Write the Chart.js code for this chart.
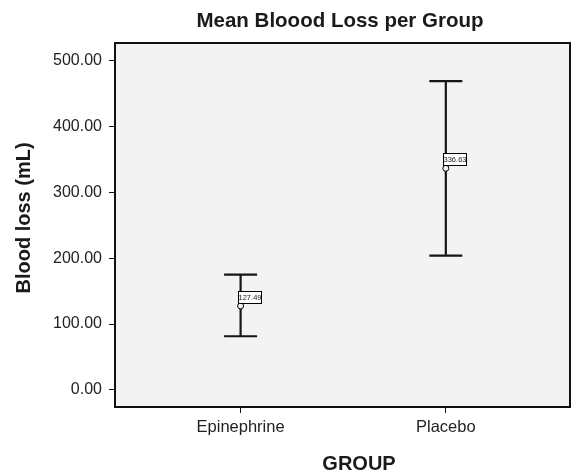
<!DOCTYPE html>
<html>
<head>
<meta charset="utf-8">
<script src="https://cdn.jsdelivr.net/npm/chart.js@4/dist/chart.umd.min.js"></script>
<style>
html,body{margin:0;padding:0;background:#fff;}
#wrap{width:571px;height:473px;position:relative;}
</style>
</head>
<body>
<div id="wrap"><canvas id="c" width="571" height="473"></canvas></div>
<script>
const categories = ['Epinephrine', 'Placebo'];
const means = [127.49, 336.63];
const upper = [175.0, 469.0];
const lower = [81.5, 204.0];
const yTicks = [0, 100, 200, 300, 400, 500];
const titleText = 'Mean Bloood Loss per Group';
const xTitle = 'GROUP';
const yTitle = 'Blood loss (mL)';

const FONT = '"Liberation Sans", Arial, Helvetica, sans-serif';

const decor = {
  id: 'decor',
  beforeDraw(chart) {
    const {ctx, chartArea: a} = chart;
    ctx.save();
    ctx.fillStyle = '#f3f3f3';
    ctx.fillRect(a.left, a.top, a.right - a.left, a.bottom - a.top);
    ctx.restore();
  },
  afterDatasetsDraw(chart) {
    const {ctx, chartArea: a, scales: {x, y}} = chart;
    ctx.save();
    // error bars
    ctx.strokeStyle = '#161616';
    ctx.lineWidth = 2.2;
    for (let i = 0; i < categories.length; i++) {
      const px = x.getPixelForValue(i);
      const yu = y.getPixelForValue(upper[i]);
      const yl = y.getPixelForValue(lower[i]);
      const hw = 16.5;
      ctx.beginPath();
      ctx.moveTo(px, yu); ctx.lineTo(px, yl);
      ctx.moveTo(px - hw, yu); ctx.lineTo(px + hw, yu);
      ctx.moveTo(px - hw, yl); ctx.lineTo(px + hw, yl);
      ctx.stroke();
    }
    // mean circles
    ctx.lineWidth = 1;
    ctx.strokeStyle = '#000';
    for (let i = 0; i < categories.length; i++) {
      const px = x.getPixelForValue(i);
      const py = y.getPixelForValue(means[i]);
      ctx.fillStyle = '#f3f3f3';
      ctx.beginPath();
      ctx.arc(px, py, 3, 0, Math.PI * 2);
      ctx.fill();
      ctx.stroke();
    }
    // value labels
    ctx.font = '7.5px ' + FONT;
    ctx.textBaseline = 'middle';
    ctx.textAlign = 'center';
    for (let i = 0; i < categories.length; i++) {
      const px = x.getPixelForValue(i);
      const py = y.getPixelForValue(means[i]);
      const w = 23, h = 12;
      const bx = Math.round(px - 3) + 0.5, by = Math.round(py - 3 - h) + 0.5;
      ctx.fillStyle = '#fff';
      ctx.fillRect(bx, by, w, h);
      ctx.strokeStyle = '#000';
      ctx.strokeRect(bx, by, w, h);
      ctx.fillStyle = '#222';
      ctx.fillText(means[i].toFixed(2), bx + w / 2, by + h / 2 + 0.5);
    }
    // frame
    ctx.strokeStyle = '#111';
    ctx.lineWidth = 2;
    ctx.strokeRect(a.left, a.top, a.right - a.left, a.bottom - a.top);
    // titles
    ctx.fillStyle = '#1a1a1a';
    ctx.textAlign = 'center';
    ctx.textBaseline = 'alphabetic';
    ctx.font = 'bold 20.5px ' + FONT;
    ctx.fillText(titleText, 340, 27);
    ctx.font = 'bold 20px ' + FONT;
    ctx.fillText(xTitle, 359, 470);
    ctx.translate(30, 218);
    ctx.rotate(-Math.PI / 2);
    ctx.font = 'bold 20px ' + FONT;
    ctx.fillText(yTitle, 0, 0);
    ctx.restore();
  }
};

new Chart(document.getElementById('c'), {
  type: 'scatter',
  data: {
    datasets: [{
      data: means.map((m, i) => ({x: i, y: m})),
      pointRadius: 0,
      showLine: false
    }]
  },
  options: {
    responsive: false,
    animation: false,
    devicePixelRatio: 1,
    layout: {padding: {top: 43, right: 1, left: 0, bottom: 0}},
    plugins: {legend: {display: false}, tooltip: {enabled: false}, title: {display: false}},
    scales: {
      x: {
        type: 'linear',
        min: -0.612,
        max: 1.605,
        afterBuildTicks: s => { s.ticks = categories.map((c, i) => ({value: i})); },
        afterFit: s => { s.height = 66; },
        ticks: {
          callback: v => categories[v] ?? '',
          font: {size: 16.5, family: FONT},
          color: '#222',
          padding: 5,
          maxRotation: 0,
          autoSkip: false
        },
        grid: {drawOnChartArea: false, drawTicks: true, tickLength: 6, color: '#111', lineWidth: 1},
        border: {display: false}
      },
      y: {
        type: 'linear',
        min: -26,
        max: 527,
        afterBuildTicks: s => { s.ticks = yTicks.map(v => ({value: v})); },
        afterFit: s => { s.width = 115; },
        ticks: {
          callback: v => Number(v).toFixed(2),
          font: {size: 16, family: FONT},
          color: '#222',
          padding: 7
        },
        grid: {drawOnChartArea: false, drawTicks: true, tickLength: 6, color: '#111', lineWidth: 1},
        border: {display: false}
      }
    }
  },
  plugins: [decor]
});
</script>
</body>
</html>
